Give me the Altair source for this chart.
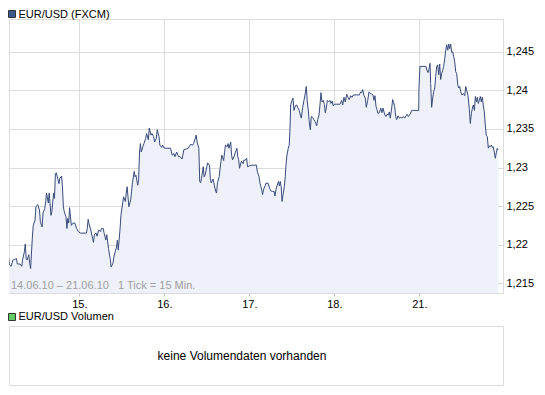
import altair as alt
import pandas as pd

FONT = "Liberation Sans"

# 15-minute tick index (0 = first tick shown, 14.06.10) and EUR/USD quote
ticks = [
    0, 2, 4, 5, 7, 8, 10, 12, 14, 16,
    17, 20, 22, 23, 25, 26, 27, 28, 30, 31,
    32, 34, 35, 37, 38, 40, 42, 43, 45, 46,
    48, 49, 50, 52, 53, 55, 56, 58, 59, 60,
    61, 63, 64, 65, 67, 68, 69, 70, 72, 73,
    74, 75, 76, 78, 80, 82, 84, 86, 88, 95,
    96, 97, 98, 100, 102, 103, 104, 106, 107, 109,
    111, 112, 114, 115, 117, 118, 120, 122, 123, 125,
    126, 128, 129, 130, 131, 133, 134, 136, 137, 139,
    140, 141, 142, 143, 145, 146, 147, 149, 150, 151,
    153, 154, 155, 156, 157, 159, 160, 162, 163, 165,
    166, 168, 169, 171, 172, 174, 175, 177, 178, 180,
    181, 183, 186, 190, 192, 194, 195, 197, 199, 201,
    203, 204, 205, 208, 210, 212, 213, 215, 216, 218,
    219, 220, 222, 223, 224, 225, 227, 228, 229, 231,
    232, 234, 235, 236, 238, 239, 241, 242, 243, 245,
    246, 247, 248, 250, 251, 252, 254, 255, 256, 258,
    259, 260, 262, 263, 265, 266, 267, 268, 270, 272,
    273, 274, 276, 277, 279, 282, 287, 288, 290, 291,
    293, 294, 295, 297, 298, 299, 300, 302, 303, 305,
    307, 308, 309, 311, 312, 313, 314, 315, 316, 317,
    318.5, 319.6, 320.4, 321.5, 323.0, 324.1, 324.9, 325.7, 327.2, 328.3,
    329.5, 330.9, 332.5, 334.0, 335.4, 336.6, 337.7, 339.3, 340.7, 341.9,
    343.3, 344.5, 345.6, 346.7, 347.9, 349.0, 350.6, 352.0, 353.5, 355.1,
    356.2, 357.7, 358.8, 359.9, 361.1, 362.5, 363.7, 364.8, 365.9, 367.1,
    368.7, 370.1, 371.2, 372.7, 373.8, 375.0, 377.7, 381.5, 383.3, 384.5,
    385.9, 387.4, 389.0, 390.5, 391.9, 393.5, 395.0, 396.4, 400.3, 403.2,
    404.8, 405.9, 407.0, 408.5, 410.0, 411.1, 412.7, 414.2, 415.6, 417.2,
    418.7, 419.8, 420.9, 422.1, 423.2, 424.3, 425.8, 427.4, 428.8, 430.0,
    431.1, 432.2, 433.3, 434.5, 435.9, 437.1, 438.2, 439.8, 440.9, 442.0,
    443.2, 444.3, 445.4, 446.9, 448.4, 450.0, 451.5, 453.0, 454.5, 456.0,
    457.1, 458.6, 460.5, 462.4, 464.2, 470.3, 470.6, 471.7, 478.5, 479.6,
    480.8, 481.9, 483.1, 483.8, 484.9, 486.1, 487.2, 488.4, 489.5, 490.6,
    491.8, 492.9, 494.0, 495.1, 496.3, 497.4, 498.5, 499.7, 500.8, 501.9,
    503.1, 504.2, 505.3, 506.4, 507.6, 508.7, 509.8, 511.0, 512.1, 513.2,
    514.4, 515.5, 516.6, 517.8, 519.2, 520.7, 522.3, 523.4, 524.5, 526.0,
    527.5, 528.6, 529.8, 530.9, 532.0, 533.2, 534.3, 535.4, 536.5, 537.6,
    538.8, 539.9, 541.0, 542.1, 543.2, 544.4, 545.5, 546.6, 547.8, 548.9,
    550.0, 551.2, 552.3, 553.4, 554.5, 555.7, 556.8, 557.9, 559.0, 560.2,
]
prices = [
    1.2188, 1.2178, 1.2175, 1.2182, 1.2184, 1.2174, 1.2172, 1.2180, 1.2181, 1.2182,
    1.2175, 1.2175, 1.2172, 1.2181, 1.2191, 1.2201, 1.2182, 1.2180, 1.2187, 1.2176,
    1.2169, 1.2210, 1.2225, 1.2232, 1.2249, 1.2252, 1.2245, 1.2230, 1.2223, 1.2241,
    1.2247, 1.2256, 1.2267, 1.2254, 1.2267, 1.2238, 1.2243, 1.2267, 1.2260, 1.2292,
    1.2293, 1.2284, 1.2279, 1.2286, 1.2289, 1.2275, 1.2249, 1.2243, 1.2236, 1.2221,
    1.2234, 1.2228, 1.2248, 1.2225, 1.2228, 1.2228, 1.2221, 1.2217, 1.2215, 1.2215,
    1.2221, 1.2233, 1.2227, 1.2219, 1.2208, 1.2203, 1.2213, 1.2215, 1.2211, 1.2219,
    1.2217, 1.2221, 1.2221, 1.2215, 1.2206, 1.2213, 1.2195, 1.2181, 1.2171, 1.2176,
    1.2184, 1.2193, 1.2197, 1.2206, 1.2193, 1.2220, 1.2238, 1.2254, 1.2262, 1.2256,
    1.2267, 1.2275, 1.2262, 1.2249, 1.2258, 1.2269, 1.2280, 1.2295, 1.2288, 1.2290,
    1.2277, 1.2284, 1.2319, 1.2331, 1.2320, 1.2328, 1.2331, 1.2338, 1.2344, 1.2336,
    1.2351, 1.2342, 1.2344, 1.2340, 1.2333, 1.2338, 1.2349, 1.2340, 1.2329, 1.2326,
    1.2329, 1.2325, 1.2325, 1.2325, 1.2316, 1.2318, 1.2314, 1.2320, 1.2314, 1.2314,
    1.2311, 1.2316, 1.2323, 1.2324, 1.2325, 1.2329, 1.2330, 1.2329, 1.2331, 1.2338,
    1.2342, 1.2333, 1.2325, 1.2282, 1.2280, 1.2286, 1.2301, 1.2288, 1.2290, 1.2301,
    1.2306, 1.2303, 1.2286, 1.2280, 1.2285, 1.2280, 1.2269, 1.2267, 1.2280, 1.2288,
    1.2299, 1.2308, 1.2316, 1.2309, 1.2319, 1.2329, 1.2327, 1.2331, 1.2325, 1.2333,
    1.2316, 1.2310, 1.2315, 1.2319, 1.2325, 1.2314, 1.2310, 1.2299, 1.2308, 1.2305,
    1.2310, 1.2309, 1.2312, 1.2301, 1.2302, 1.2303, 1.2303, 1.2295, 1.2288, 1.2280,
    1.2271, 1.2265, 1.2271, 1.2277, 1.2280, 1.2279, 1.2280, 1.2273, 1.2270, 1.2269,
    1.2269, 1.2263, 1.2271, 1.2279, 1.2282, 1.2276, 1.2282, 1.2275, 1.2256, 1.2264,
    1.2275, 1.2288, 1.2303, 1.2316, 1.2325, 1.2329, 1.2349, 1.2381, 1.2387, 1.2390,
    1.2374, 1.2380, 1.2381, 1.2377, 1.2374, 1.2368, 1.2364, 1.2378, 1.2387, 1.2394,
    1.2405, 1.2385, 1.2374, 1.2359, 1.2349, 1.2366, 1.2365, 1.2362, 1.2359, 1.2354,
    1.2362, 1.2368, 1.2381, 1.2397, 1.2385, 1.2387, 1.2382, 1.2371, 1.2377, 1.2387,
    1.2385, 1.2387, 1.2383, 1.2386, 1.2380, 1.2382, 1.2382, 1.2382, 1.2387, 1.2381,
    1.2391, 1.2385, 1.2395, 1.2391, 1.2388, 1.2393, 1.2391, 1.2394, 1.2394, 1.2394,
    1.2398, 1.2397, 1.2401, 1.2393, 1.2390, 1.2378, 1.2387, 1.2398, 1.2396, 1.2395,
    1.2394, 1.2387, 1.2393, 1.2379, 1.2375, 1.2370, 1.2371, 1.2377, 1.2371, 1.2377,
    1.2372, 1.2368, 1.2366, 1.2369, 1.2368, 1.2372, 1.2364, 1.2377, 1.2388, 1.2384,
    1.2379, 1.2366, 1.2362, 1.2367, 1.2364, 1.2365, 1.2364, 1.2366, 1.2364, 1.2367,
    1.2369, 1.2366, 1.2369, 1.2374, 1.2374, 1.2374, 1.2403, 1.2431, 1.2431, 1.2426,
    1.2423, 1.2427, 1.2435, 1.2409, 1.2378, 1.2390, 1.2398, 1.2403, 1.2418, 1.2431,
    1.2433, 1.2420, 1.2434, 1.2414, 1.2422, 1.2426, 1.2431, 1.2441, 1.2452, 1.2459,
    1.2452, 1.2460, 1.2454, 1.2460, 1.2449, 1.2450, 1.2444, 1.2437, 1.2424, 1.2422,
    1.2407, 1.2403, 1.2405, 1.2398, 1.2394, 1.2396, 1.2393, 1.2405, 1.2400, 1.2393,
    1.2375, 1.2357, 1.2370, 1.2377, 1.2381, 1.2374, 1.2392, 1.2385, 1.2391, 1.2383,
    1.2387, 1.2392, 1.2385, 1.2391, 1.2381, 1.2372, 1.2355, 1.2342, 1.2340, 1.2325,
    1.2328, 1.2327, 1.2329, 1.2326, 1.2327, 1.2320, 1.2312, 1.2319, 1.2325, 1.2323,
]
assert len(ticks) == len(prices)

day_ticks = [87, 183, 279, 375, 471]
day_labels = ["15.", "16.", "17.", "18.", "21."]
price_ticks = [1.215, 1.22, 1.225, 1.23, 1.235, 1.24, 1.245]

title_main = "EUR/USD (FXCM)"
title_volume = "EUR/USD Volumen"
no_volume_text = "keine Volumendaten vorhanden"
range_text = "14.06.10 \u2013 21.06.10\u00a0\u00a0\u00a01 Tick = 15 Min."

X_DOMAIN = [7.6, 565.5]
Y_DOMAIN = [1.21374, 1.24924]
W, H = 494, 274

LINE = "#394b7c"
FILL = "#eef1f9"
GRID = "#dcdcdc"

df = pd.DataFrame({"tick": ticks, "price": prices})

label_expr = " : ".join(
    f"datum.value == {t} ? '{l}'" for t, l in zip(day_ticks, day_labels)
) + " : ''"

x_enc = alt.X(
    "tick:Q",
    scale=alt.Scale(domain=X_DOMAIN, nice=False, zero=False),
    axis=alt.Axis(
        values=day_ticks, labelExpr=label_expr, title=None, grid=True,
        gridColor=GRID, gridWidth=1, domain=False, ticks=True, tickSize=3,
        tickColor="#c8c8c8", labelFont=FONT, labelFontSize=11, labelColor="#000",
        labelPadding=2, labelFlush=False, labelAlign="center",
    ),
)
y_enc = alt.Y(
    "price:Q",
    scale=alt.Scale(domain=Y_DOMAIN, nice=False, zero=False),
    axis=alt.Axis(
        orient="right", values=price_ticks,
        labelExpr="replace(format(datum.value, '.3~f'), '.', ',')",
        title=None, grid=True, gridColor=GRID, gridWidth=1, domain=False,
        ticks=False, labelPadding=3, labelFont=FONT, labelFontSize=11,
        labelColor="#000", labelAlign="left", labelBaseline="middle",
        labelFlush=False,
    ),
)

base = alt.Chart(df)
area = base.mark_area(color=FILL, clip=True).encode(
    x=x_enc, y=y_enc, y2=alt.datum(Y_DOMAIN[0])
)
line = base.mark_line(color=LINE, strokeWidth=1, clip=True).encode(
    x="tick:Q", y="price:Q"
)


def pix_rect(x0, x1, y0, y1, fill, stroke):
    return alt.Chart(pd.DataFrame({"k": [0]})).mark_rect(
        fill=fill, stroke=stroke, strokeWidth=1
    ).encode(x=alt.value(x0), x2=alt.value(x1), y=alt.value(y0), y2=alt.value(y1))


def pix_text(txt, xv, yv, size=11, color="#000", align="left"):
    return alt.Chart(pd.DataFrame({"t": [txt]})).mark_text(
        align=align, baseline="middle", font=FONT, fontSize=size, color=color
    ).encode(text="t:N", x=alt.value(xv), y=alt.value(yv))


range_label = pix_text(range_text, 2, 267, color="#a0a0a0")
title_sq = pix_rect(-0.5, 6.5, -8.5, -1.5, "#3d5a8c", "#333333")
title_txt = pix_text(title_main, 9.5, -4.5)
vol_box = pix_rect(0.5, 494.5, 307.5, 366.5, "#ffffff", GRID)
vol_sq = pix_rect(-0.5, 6.5, 294.5, 301.5, "#66cc66", "#333333")
vol_txt = pix_text(title_volume, 9.5, 298)
vol_msg = pix_text(no_volume_text, 233, 336.7, size=12, align="center")

chart = alt.layer(
    area, line, range_label, title_sq, title_txt, vol_box, vol_sq, vol_txt, vol_msg
).properties(
    width=W, height=H,
    autosize=alt.AutoSizeParams(type="none"),
    padding={"left": 1, "top": 11, "right": 34, "bottom": 94},
).configure_view(stroke=GRID, strokeWidth=1)

chart.save("out.html", embed_options={"renderer": "svg", "actions": False})
